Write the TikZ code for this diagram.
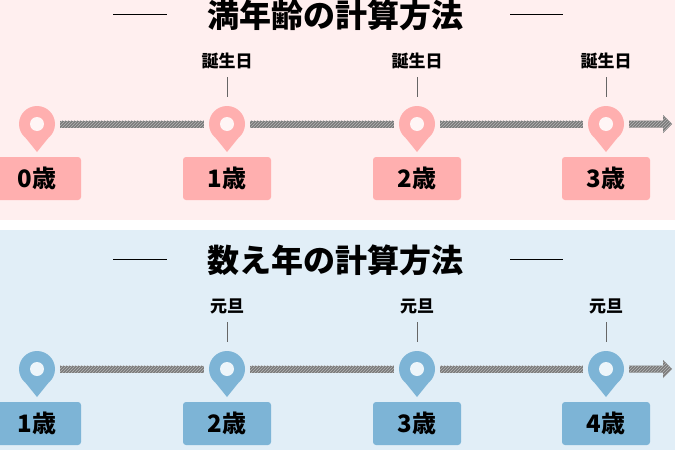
\documentclass[tikz,border=0pt]{standalone}
\usepackage{fontspec}
\setmainfont{Noto Sans CJK JP}
\usetikzlibrary{patterns}

\definecolor{pinkbg}{HTML}{FFEFEF}
\definecolor{pinkmark}{HTML}{FFAFAF}
\definecolor{bluebg}{HTML}{E1EEF7}
\definecolor{bluemark}{HTML}{7DB4D6}
\definecolor{bardark}{HTML}{7A7A7A}
\definecolor{barlight}{HTML}{B8B8B8}
\definecolor{tickgray}{HTML}{666666}

\tikzset{
  pin/.style={circle, fill=#1, minimum size=36pt, inner sep=0pt},
  agebox/.style={rectangle, rounded corners=3pt, fill=#1, minimum width=88pt,
    minimum height=43pt, inner sep=0pt, font=\bfseries\fontsize{24}{24}\selectfont},
  daylabel/.style={inner sep=0pt, font=\bfseries\fontsize{17}{17}\selectfont},
  heading/.style={inner sep=0pt, font=\bfseries\fontsize{32}{32}\selectfont},
  bar/.style={fill=bardark, postaction={pattern=north east lines, pattern color=barlight}},
  tick/.style={tickgray, line width=0.8pt},
}

\begin{document}
\begin{tikzpicture}[x=1pt, y=-1pt]
    \useasboundingbox (0,0) rectangle (675,450);
    % 満年齢
    \fill[pinkbg] (0,0) rectangle (675,220);
    \node[heading] (titleA) at (335,15) {満年齢の計算方法};
    \draw[thin] (113,14) -- (167,14);
    \draw[thin] (510,14) -- (563,14);
    \foreach \x/\age [count=\i from 0] in {37/0,227/1,417/2,606/3} {
        \node[pin=pinkmark] (a\i) at (\x,124) {};
        \fill[pinkmark] ([xshift=-11.3pt,yshift=-14pt]a\i.center) -- ([xshift=11.3pt,yshift=-14pt]a\i.center)
            -- ([yshift=-28pt]a\i.center) -- cycle;
        \fill[pinkbg!60!white] (a\i.center) circle (7pt);
        \node[agebox=pinkmark] (ageA\i) at (\x,178.5) {\age{}歳};
        \ifnum\i>0
            \node[daylabel] (dayA\i) at (\x,61) {誕生日};
            \draw[tick] ([yshift=9pt]a\i.north) -- ([yshift=29pt]a\i.north);
        \fi
    }
    \foreach \i/\j in {0/1,1/2,2/3}
        \path[bar] ([xshift=5pt,yshift=3.5pt]a\i.east) rectangle ([xshift=-5pt,yshift=-3.5pt]a\j.west);
    \coordinate (endA) at (672,124);
    \path[bar] ([xshift=5pt,yshift=3.5pt]a3.east) -- ([xshift=-9pt,yshift=3.5pt]endA)
        -- ([xshift=-9pt,yshift=9pt]endA) -- (endA) -- ([xshift=-9pt,yshift=-9pt]endA)
        -- ([xshift=-9pt,yshift=-3.5pt]endA) -- ([xshift=5pt,yshift=-3.5pt]a3.east) -- cycle;

    % 数え年
    \fill[bluebg] (0,230) rectangle (675,450);
    \node[heading] (titleB) at (335,260) {数え年の計算方法};
    \draw[thin] (113,259) -- (167,259);
    \draw[thin] (510,259) -- (563,259);
    \foreach \x/\age [count=\i from 0] in {37/1,227/2,417/3,606/4} {
        \node[pin=bluemark] (b\i) at (\x,369) {};
        \fill[bluemark] ([xshift=-11.3pt,yshift=-14pt]b\i.center) -- ([xshift=11.3pt,yshift=-14pt]b\i.center)
            -- ([yshift=-28pt]b\i.center) -- cycle;
        \fill[bluebg!60!white] (b\i.center) circle (7pt);
        \node[agebox=bluemark] (ageB\i) at (\x,423.5) {\age{}歳};
        \ifnum\i>0
            \node[daylabel] (dayB\i) at (\x,306) {元旦};
            \draw[tick] ([yshift=9pt]b\i.north) -- ([yshift=29pt]b\i.north);
        \fi
    }
    \foreach \i/\j in {0/1,1/2,2/3}
        \path[bar] ([xshift=5pt,yshift=3.5pt]b\i.east) rectangle ([xshift=-5pt,yshift=-3.5pt]b\j.west);
    \coordinate (endB) at (672,369);
    \path[bar] ([xshift=5pt,yshift=3.5pt]b3.east) -- ([xshift=-9pt,yshift=3.5pt]endB)
        -- ([xshift=-9pt,yshift=9pt]endB) -- (endB) -- ([xshift=-9pt,yshift=-9pt]endB)
        -- ([xshift=-9pt,yshift=-3.5pt]endB) -- ([xshift=5pt,yshift=-3.5pt]b3.east) -- cycle;
\end{tikzpicture}
\end{document}
